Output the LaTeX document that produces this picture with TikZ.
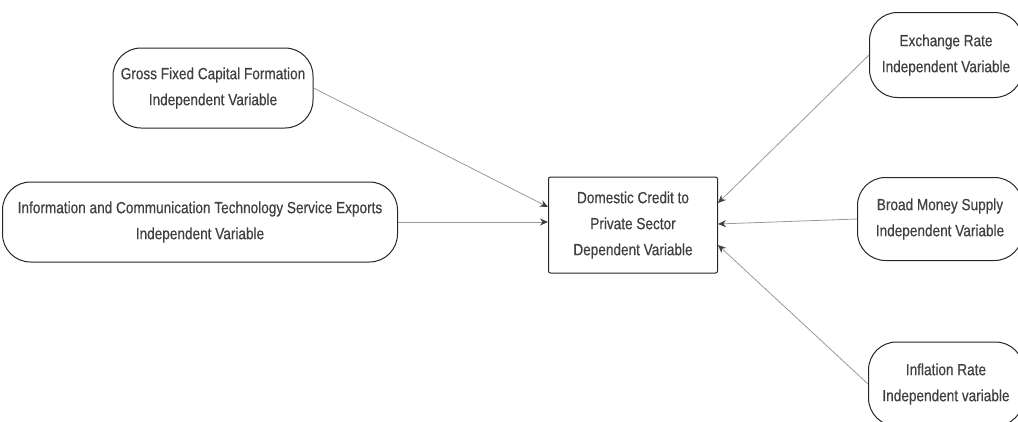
\documentclass[tikz,border=0pt]{standalone}
\usepackage{fontspec}
\setmainfont{Liberation Sans}[FakeStretch=0.84, FakeBold=0.5]
\usetikzlibrary{arrows.meta}

\begin{document}
\begin{tikzpicture}[x=1pt, y=-1pt,
    var/.style={draw=black!85, line width=1pt, rounded corners=28pt, align=center,
      text=black!75, font=\fontsize{16.2}{26}\selectfont},
    dep/.style={draw=black!85, line width=1pt, rounded corners=2pt, align=center,
      text=black!75, font=\fontsize{16.2}{26}\selectfont},
    link/.style={draw=black!40, line width=0.8pt, -{Stealth[length=8pt,width=7pt,color=black!75]}}]
      \useasboundingbox (0,0) rectangle (1018,421);

      % dependent variable
      \node [dep, minimum width=169pt, minimum height=96pt] (dcps) at (633,225)
        {Domestic Credit to\\Private Sector\\Dependent Variable};

      % independent variables, left
      \node [var, minimum width=200pt, minimum height=80pt] (gfcf) at (213,88)
        {Gross Fixed Capital Formation\\Independent Variable};
      \node [var, minimum width=395pt, minimum height=80pt] (ict) at (200,222)
        {Information and Communication Technology Service Exports\\Independent Variable};

      % independent variables, right
      \node [var, minimum width=153pt, minimum height=85pt] (exr) at (946,55)
        {Exchange Rate\\Independent Variable};
      \node [var, minimum width=165pt, minimum height=83pt] (m2) at (940,219)
        {Broad Money Supply\\Independent Variable};
      \node [var, minimum width=155pt, minimum height=84pt] (inf) at (946,384)
        {Inflation Rate\\Independent variable};

      \draw [link] (gfcf.east) -- ([yshift=18pt]dcps.west);
      \draw [link] (ict.east) -- (dcps.west |- ict.east);
      \draw [link] (exr.west) -- ([yshift=22pt]dcps.east);
      \draw [link] (m2.west) -- ([yshift=1pt]dcps.east);
      \draw [link] (inf.west) -- ([yshift=-20pt]dcps.east);
    \end{tikzpicture}
\end{document}
